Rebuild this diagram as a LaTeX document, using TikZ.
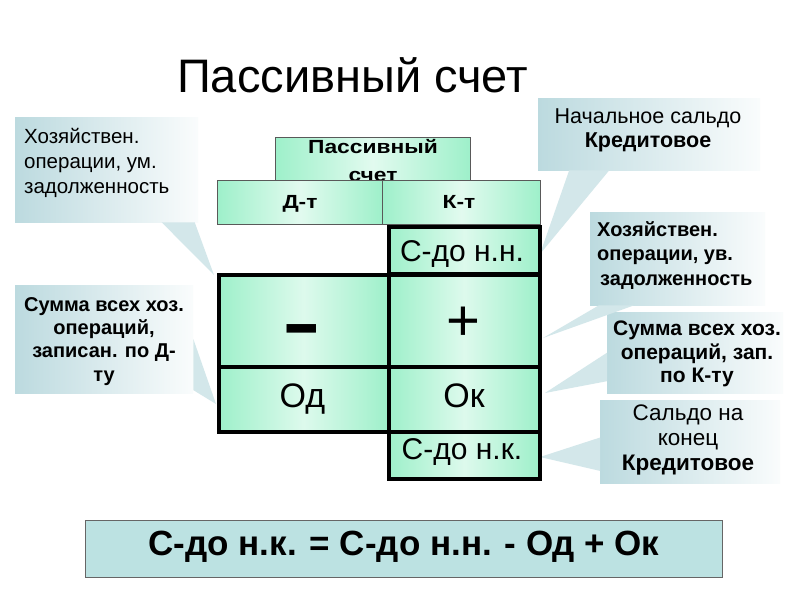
\documentclass[tikz,border=0pt]{standalone}
\usepackage{fontspec}
\setmainfont{Liberation Sans}
\usetikzlibrary{calc}
\definecolor{mint}{HTML}{9EF0CA}
\definecolor{callc}{HTML}{BCDADF}
\definecolor{formc}{HTML}{BCE2E2}
\newcommand{\fs}[2]{\fontsize{#1}{#2}\selectfont}
\tikzset{
  hdrbox/.style={draw=gray!70!black, line width=0.8pt, left color=mint, right color=mint, middle color=white!70!mint, inner sep=0pt, anchor=north west},
  cell/.style={draw=black, line width=3.5pt, left color=mint, right color=mint, middle color=white!65!mint, inner sep=0pt, anchor=north west},
  callbox/.style={left color=callc, right color=white!92!callc, inner sep=0pt, anchor=north west},
  ptr/.style={fill=callc!65},
  txt/.style={inner sep=0pt},
}
\begin{document}
\begin{tikzpicture}[x=1pt,y=-1pt]
\useasboundingbox (0,0) rectangle (800,600);
\fill[white] (0,0) rectangle (800,600);

% title
\node[txt, anchor=base, font=\fs{47}{50}] (title) at (352.5,92) {Пассивный счет};

% pointer tips
\coordinate (t1) at (214,275);
\coordinate (t2) at (216,404);
\coordinate (t3) at (540,254);
\coordinate (t4) at (543,338);
\coordinate (t5) at (545,393);
\coordinate (t6) at (540,457);

% callout boxes
\node[callbox, minimum width=183pt, minimum height=105pt] (c1) at (15,117) {};
\node[callbox, minimum width=178pt, minimum height=108pt] (c2) at (15,285) {};
\node[callbox, minimum width=222pt, minimum height=72pt] (c3) at (538,98) {};
\node[callbox, minimum width=175pt, minimum height=93pt] (c4) at (590,212) {};
\node[callbox, minimum width=176pt, minimum height=81pt] (c5) at (607,312) {};
\node[callbox, minimum width=180pt, minimum height=83pt] (c6) at (600,400) {};

% pointers
\fill[ptr] ($(c1.south west)!0.80!(c1.south east)$) -- ($(c1.south west)!0.98!(c1.south east)$) -- (t1) -- cycle;
\fill[ptr] ($(c2.north east)!0.50!(c2.south east)$) -- ($(c2.north east)!0.97!(c2.south east)$) -- (t2) -- cycle;
\fill[ptr] ($(c3.south west)!0.14!(c3.south east)$) -- ($(c3.south west)!0.32!(c3.south east)$) -- (t3) -- cycle;
\fill[ptr] ($(c4.south west)!0.05!(c4.south east)$) -- ($(c4.south west)!0.25!(c4.south east)$) -- (t4) -- cycle;
\fill[ptr] ($(c5.north west)!0.50!(c5.south west)$) -- ($(c5.north west)!0.85!(c5.south west)$) -- (t5) -- cycle;
\fill[ptr] ($(c6.north west)!0.45!(c6.south west)$) -- ($(c6.north west)!0.85!(c6.south west)$) -- (t6) -- cycle;

% callout texts
\node[txt, align=left, anchor=north west, font=\fs{20.5}{25}] (c1t) at (24,128) {Хозяйствен.\\операции, ум.\\задолженность};
\node[txt, align=center, anchor=north, font=\fs{20}{23.3}\bfseries] (c2t) at (104,297) {Сумма всех хоз.\\операций,\\записан. по Д-\\ту};
\node[txt, align=center, anchor=north, font=\fs{21.5}{23.5}] (c3t) at (648,109) {Начальное сальдо\\\textbf{Кредитовое}};
\node[txt, align=left, anchor=north west, font=\fs{20}{24.5}\bfseries] (c4t) at (597,221) {Хозяйствен.\\операции, ув.\\\hspace*{3pt}задолженность};
\node[txt, align=center, anchor=north, font=\fs{21}{23.5}\bfseries] (c5t) at (697,321) {Сумма всех хоз.\\операций, зап.\\по К-ту};
\node[txt, align=center, anchor=north, font=\fs{22.5}{25}] (c6t) at (688,405) {Сальдо на\\конец\\\textbf{Кредитовое}};

% header
\node[hdrbox, minimum width=195pt, minimum height=48pt] (hdr) at (275,137) {};
\node[txt, align=center, anchor=north, font=\fs{19}{28}\bfseries] (hdrt) at (373,139) {\scalebox{1.2}[1]{Пассивный}\\\scalebox{1.2}[1]{счет}};
\node[hdrbox, minimum width=165pt, minimum height=44pt] (dt) at (217,180) {};
\node[hdrbox, minimum width=158pt, minimum height=44pt] (kt) at (382,180) {};
\node[txt, anchor=base, font=\fs{19}{22}\bfseries] (dtt) at (300,208) {\scalebox{1.2}[1]{Д-т}};
\node[txt, anchor=base, font=\fs{19}{22}\bfseries] (ktt) at (459,208) {\scalebox{1.2}[1]{К-т}};

% account cells
\node[cell, minimum width=151pt, minimum height=47pt] (nn) at (387,225) {};
\node[cell, minimum width=170pt, minimum height=92pt] (minus) at (217,273) {};
\node[cell, minimum width=151pt, minimum height=92pt] (plus) at (387,273) {};
\node[cell, minimum width=170pt, minimum height=65pt] (od) at (217,365) {};
\node[cell, minimum width=151pt, minimum height=65pt] (ok) at (387,365) {};
\node[cell, minimum width=151pt, minimum height=47pt] (nk) at (387,430) {};

\node[txt, anchor=base, font=\fs{30}{32}] (nnt) at (462,261) {С-до н.н.};
\node[txt, anchor=base, font=\fs{20}{22}\bfseries] (minust) at (302,347) {\scalebox{5.8}[3.6]{-}};
\node[txt, anchor=base, font=\fs{58}{60}] (plust) at (463,340.5) {+};
\node[txt, anchor=base, font=\fs{34}{36}] (odt) at (302.5,407) {Од};
\node[txt, anchor=base, font=\fs{34}{36}] (okt) at (464,407) {Ок};
\node[txt, anchor=base, font=\fs{30}{32}] (nkt) at (462,459) {С-до н.к.};

% formula
\node[draw=gray!80!black, line width=1pt, fill=formc, minimum width=637pt, minimum height=57pt] (form) at (403.5,548.5) {};
\node[txt, anchor=base, font=\fs{35}{38}\bfseries] (formt) at (404,555) {С-до н.к. = С-до н.н. - Од + Ок};
\end{tikzpicture}
\end{document}
